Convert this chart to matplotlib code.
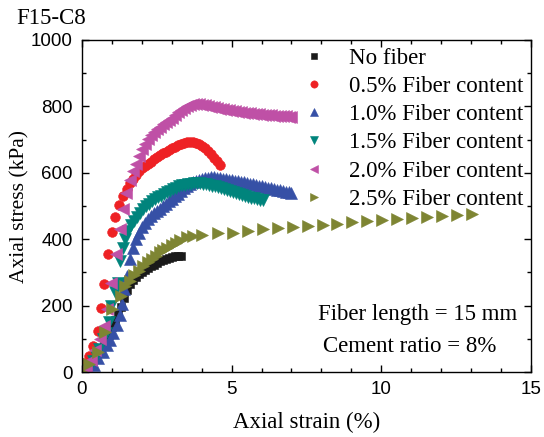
import matplotlib
matplotlib.use("Agg")
import matplotlib.pyplot as plt
from matplotlib.ticker import MultipleLocator

# ---------------- data ----------------
labels = ["No fiber", "0.5% Fiber content", "1.0% Fiber content",
          "1.5% Fiber content", "2.0% Fiber content", "2.5% Fiber content"]

x_nofiber = [0.0, 0.15, 0.3, 0.45, 0.6, 0.75, 0.9, 1.0, 1.1, 1.2, 1.3, 1.4, 1.5, 1.6,
             1.7, 1.8, 1.9, 2.0, 2.1, 2.2, 2.3, 2.4, 2.5, 2.6, 2.7, 2.8, 2.9, 3.0,
             3.1, 3.2, 3.3]
y_nofiber = [0, 8, 22, 40, 62, 85, 112, 135, 158, 175, 195, 222, 248, 265,
             277, 286, 294, 300, 306, 312, 318, 323, 328, 333, 337, 341, 344, 347,
             348, 349, 348]

x_f05 = [0.0, 0.04, 0.24, 0.38, 0.52, 0.62, 0.75, 0.88, 0.99, 1.10, 1.25, 1.38, 1.50,
         1.60, 1.70, 1.80, 1.90, 2.00, 2.10, 2.20, 2.30, 2.40, 2.50, 2.60, 2.70, 2.80,
         2.90, 3.00, 3.10, 3.20, 3.30, 3.40, 3.50, 3.60, 3.70, 3.80, 3.90, 4.00, 4.10,
         4.20, 4.30, 4.40, 4.50, 4.60]
y_f05 = [0, 26, 48, 79, 124, 192, 265, 354, 423, 468, 503, 530, 552,
         568, 580, 593, 604, 613, 620, 627, 634, 641, 647, 653, 659, 664,
         669, 674, 679, 683, 687, 690, 693, 694, 693, 690, 686, 680, 674,
         666, 656, 646, 636, 623]

x_f10 = [0.0, 0.2, 0.4, 0.55, 0.69, 0.83, 0.94, 1.05, 1.16, 1.27, 1.34, 1.42, 1.52,
         1.62, 1.70, 1.80, 1.90, 2.00, 2.10, 2.20, 2.30, 2.40, 2.50, 2.60, 2.70, 2.80,
         2.90, 3.00, 3.10, 3.20, 3.30, 3.40, 3.50, 3.60, 3.70, 3.80, 3.90, 4.00, 4.10,
         4.20, 4.30, 4.40, 4.50, 4.60, 4.70, 4.80, 4.90, 5.00, 5.10, 5.20, 5.30, 5.40,
         5.50, 5.60, 5.70, 5.80, 5.90, 6.00, 6.10, 6.20, 6.30, 6.40, 6.50, 6.60, 6.70,
         6.80, 6.90, 7.00]
y_f10 = [0, 8, 21, 41, 61, 81, 96, 117, 142, 172, 205, 250, 290,
         340, 375, 400, 420, 437, 450, 460, 470, 478, 485, 492, 499, 506,
         514, 522, 529, 537, 545, 553, 560, 566, 571, 575, 579, 582, 584,
         585, 586, 586, 585, 584, 582, 580, 579, 578, 576, 575, 573, 571,
         569, 567, 565, 563, 561, 559, 557, 555, 553, 551, 549, 547, 545,
         543, 541, 539]

x_f15 = [0.0, 0.1, 0.24, 0.36, 0.47, 0.56, 0.69, 0.80, 0.89, 0.97, 1.10, 1.19, 1.26,
         1.37, 1.44, 1.55, 1.65, 1.75, 1.85, 1.95, 2.05, 2.15, 2.25, 2.35, 2.45, 2.55,
         2.65, 2.75, 2.85, 2.95, 3.05, 3.15, 3.25, 3.35, 3.45, 3.55, 3.65, 3.75, 3.85,
         3.95, 4.05, 4.15, 4.25, 4.35, 4.45, 4.55, 4.65, 4.75, 4.85, 4.95, 5.05, 5.15,
         5.25, 5.35, 5.45, 5.55, 5.65, 5.75, 5.85, 5.95, 6.05]
y_f15 = [0, 5, 19, 33, 49, 69, 99, 119, 151, 199, 240, 269, 334,
         373, 402, 425, 442, 455, 468, 480, 490, 499, 507, 514, 520, 526,
         531, 536, 541, 546, 551, 555, 559, 562, 564, 566, 567, 568, 568,
         568, 567, 565, 563, 561, 559, 556, 553, 550, 547, 544, 541, 538,
         535, 532, 530, 527, 525, 523, 521, 519, 518]

x_f20 = [0.02, 0.15, 0.30, 0.45, 0.60, 0.72, 0.85, 0.98, 1.15, 1.27, 1.37, 1.48, 1.60,
         1.70, 1.80, 1.90, 2.00, 2.10, 2.20, 2.30, 2.40, 2.50, 2.60, 2.70, 2.80, 2.90,
         3.00, 3.10, 3.20, 3.30, 3.40, 3.50, 3.60, 3.70, 3.80, 3.90, 4.00, 4.10, 4.20,
         4.30, 4.40, 4.50, 4.60, 4.70, 4.80, 4.90, 5.00, 5.10, 5.20, 5.30, 5.40, 5.50,
         5.60, 5.70, 5.80, 5.90, 6.00, 6.10, 6.20, 6.30, 6.40, 6.50, 6.60, 6.70, 6.80,
         6.90, 7.00]
y_f20 = [5, 15, 35, 65, 100, 140, 190, 268, 355, 430, 490, 538, 578,
         605, 628, 650, 672, 688, 702, 713, 722, 731, 739, 746, 753, 759,
         765, 773, 782, 790, 796, 801, 804, 806, 807, 806, 805, 803, 801,
         799, 797, 795, 793, 791, 789, 788, 786, 785, 783, 782, 781, 780,
         779, 778, 777, 776, 775, 774, 773, 773, 772, 771, 771, 770, 770,
         769, 769]

x_f25 = [0.0, 0.24, 0.52, 0.78, 1.0, 1.3, 1.45, 1.6, 1.75, 1.9, 2.05, 2.2, 2.33, 2.47,
         2.6, 2.72, 2.85, 3.0, 3.13, 3.27, 3.5, 3.72, 4.0, 4.56, 5.06, 5.56, 6.06,
         6.56, 7.06, 7.54, 8.04, 8.53, 9.01, 9.53, 10.01, 10.51, 11.02, 11.52, 12.02,
         12.52, 13.02]
y_f25 = [0, 24, 61, 121, 190, 229, 259, 275, 292, 305, 318, 330, 340, 350,
         360, 367, 375, 382, 390, 398, 406, 410, 413, 420, 420, 426, 431,
         435, 438, 440, 443, 446, 451, 455, 458, 461, 465, 468, 471,
         473, 476]

series = [
    (x_nofiber, y_nofiber, "s", "#1a1a1a", 5.5),
    (x_f05, y_f05, "o", "#ee2124", 7.0),
    (x_f10, y_f10, "^", "#3650a6", 8.0),
    (x_f15, y_f15, "v", "#00847c", 8.0),
    (x_f20, y_f20, "<", "#bf50a6", 8.0),
    (x_f25, y_f25, ">", "#7e8533", 8.0),
]

# ---------------- figure ----------------
serif = ["Liberation Serif", "DejaVu Serif"]
sans = ["Liberation Sans", "DejaVu Sans"]

fig = plt.figure(figsize=(5.44, 4.37), dpi=100)
ax = fig.add_axes([0.1507, 0.1487, 0.8253, 0.7598])

for (xs, ys, m, c, ms), lab in zip(series, labels):
    ax.plot(xs, ys, linestyle="none", marker=m, color=c, markersize=ms,
            markeredgewidth=0.4, markeredgecolor=c, label=lab)

ax.set_xlim(0, 15)
ax.set_ylim(0, 1000)
ax.xaxis.set_major_locator(MultipleLocator(5))
ax.xaxis.set_minor_locator(MultipleLocator(1))
ax.yaxis.set_major_locator(MultipleLocator(200))
ax.yaxis.set_minor_locator(MultipleLocator(100))
ax.tick_params(which="both", direction="in", top=True, right=True, width=1.0)
ax.tick_params(which="major", length=5, labelsize=13.5, pad=6.5)
ax.tick_params(which="minor", length=3)
for lbl in ax.get_xticklabels() + ax.get_yticklabels():
    lbl.set_family(sans)
for sp in ax.spines.values():
    sp.set_linewidth(1.0)

ax.set_xlabel("Axial strain (%)", family=serif, fontsize=16.5, labelpad=10)
ax.set_ylabel("Axial stress (kPa)", family=serif, fontsize=15.5, labelpad=1)

leg = ax.legend(loc="upper right", frameon=False, prop={"family": serif, "size": 16.5},
                handletextpad=1.0, labelspacing=0.31, borderaxespad=0.0,
                borderpad=0.35, handlelength=1.0, markerscale=0.75)

ax.text(11.23, 172, "Fiber length = 15 mm", family=serif, fontsize=16.5,
        ha="center", va="center")
ax.text(10.94, 76, "Cement ratio = 8%", family=serif, fontsize=16.5,
        ha="center", va="center")

fig.text(0.030, 0.958, "F15-C8", family=serif, fontsize=16.5, ha="left", va="center")

fig.savefig("out.png", dpi=100)
